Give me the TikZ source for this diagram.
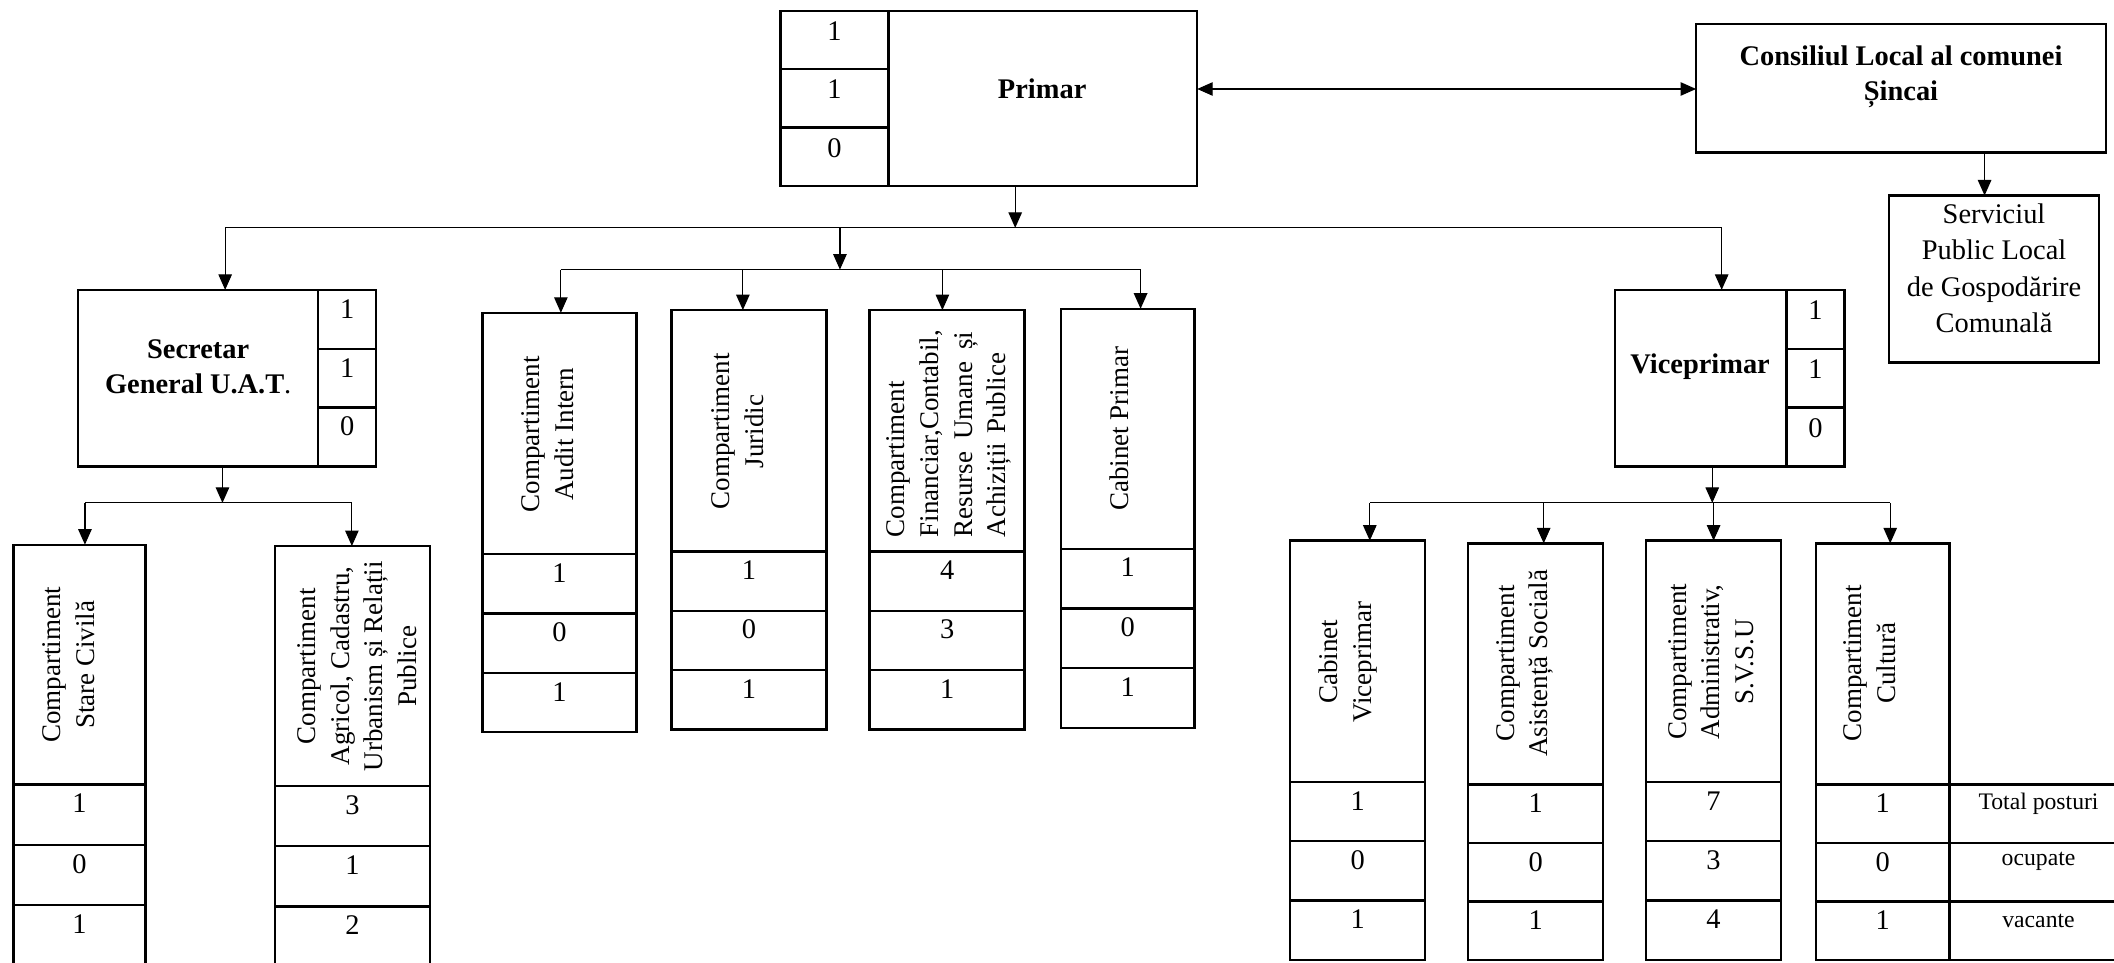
\documentclass[tikz,border=0pt]{standalone}
\usepackage{fontspec}
\setmainfont{Liberation Serif}
\usetikzlibrary{arrows.meta,fit}

% compartment: name, xl, xr, ytop, y1 (first divider), ybot, n1, n2, n3
\newcommand\orgcomp[9]{%
  \pgfmathsetmacro\cya{#5+(#6-#5)/3}%
  \pgfmathsetmacro\cyb{#5+2*(#6-#5)/3}%
  \pgfmathsetmacro\cxc{(#2+#3)/2}%
  \node[cellbox, fit={(#2,#4) (#3,#5)}] (#1) {};%
  \node[cellbox, fit={(#2,#5) (#3,\cya)}] (#1a) {};%
  \node[cellbox, fit={(#2,\cya) (#3,\cyb)}] (#1b) {};%
  \node[cellbox, fit={(#2,\cyb) (#3,#6)}] (#1c) {};%
  \node[numtxt] (#1na) at (\cxc,#5+14) {#7};%
  \node[numtxt] (#1nb) at (\cxc,\cya+14) {#8};%
  \node[numtxt] (#1nc) at (\cxc,\cyb+14) {#9};%
}
% side cells: name, xl, xr, ytop, ybot, n1, n2, n3, offset
\newcommand\orgside[9]{%
  \pgfmathsetmacro\cya{#4+(#5-#4)/3}%
  \pgfmathsetmacro\cyb{#4+2*(#5-#4)/3}%
  \pgfmathsetmacro\cxc{(#2+#3)/2}%
  \node[cellbox, fit={(#2,#4) (#3,\cya)}] (#1a) {};%
  \node[cellbox, fit={(#2,\cya) (#3,\cyb)}] (#1b) {};%
  \node[cellbox, fit={(#2,\cyb) (#3,#5)}] (#1c) {};%
  \node[numtxt] (#1na) at (\cxc,#4+#9) {#6};%
  \node[numtxt] (#1nb) at (\cxc,\cya+#9) {#7};%
  \node[numtxt] (#1nc) at (\cxc,\cyb+#9) {#8};%
}

\begin{document}
\begin{tikzpicture}[x=0.02cm,y=-0.02cm,
  cellbox/.style={draw, line width=1pt, inner sep=0pt, outer sep=0pt},
  numtxt/.style={inner sep=0pt, font=\fontsize{12}{14}\selectfont},
  rottxt/.style={rotate=90, align=center, inner sep=0pt, font=\fontsize{11.4}{14.2}\selectfont},
  headtxt/.style={align=center, inner sep=0pt, font=\bfseries\fontsize{12}{14.8}\selectfont},
  plaintxt/.style={align=center, inner sep=0pt, font=\fontsize{12}{15.4}\selectfont},
  legtxt/.style={inner sep=0pt, font=\fontsize{10}{12}\selectfont},
  conn/.style={line width=0.5pt},
  arr/.style={conn, -{Triangle[length=0.23cm,width=0.2cm]}},
  dblarr/.style={conn, {Triangle[length=0.23cm,width=0.2cm]}-{Triangle[length=0.23cm,width=0.2cm]}},
]
\useasboundingbox (0,0) rectangle (1568,714);

% ---------- Primar ----------
\node[cellbox, fit={(659,8) (888,138)}] (primar) {};
\node[headtxt] (primar-t) at (773,66) {Primar};
\orgside{pr}{579}{659}{8}{138}{1}{1}{0}{15}

% ---------- Consiliul Local ----------
\node[cellbox, fit={(1258,18) (1562,113)}] (consiliu) {};
\node[headtxt] (consiliu-t) at (1410,57) {Consiliul Local al comunei\\Șincai};

% ---------- Serviciul ----------
\node[cellbox, fit={(1401,145) (1557,269)}] (serviciu) {};
\node[plaintxt] (serviciu-t) at (1479,199) {Serviciul\\Public Local\\de Gospodărire\\Comunală};

% ---------- Secretar ----------
\node[cellbox, fit={(58,215) (236,346)}] (sec) {};
\node[headtxt] (sec-t) at (147,272) {Secretar\\General U.A.T\textmd{.}};
\orgside{sg}{236}{279}{215}{346}{1}{1}{0}{14}

% ---------- Viceprimar ----------
\node[cellbox, fit={(1198,215) (1325,346)}] (vice) {};
\node[headtxt] (vice-t) at (1261,272) {Viceprimar};
\orgside{vp}{1325}{1368}{215}{346}{1}{1}{0}{15}

% ---------- compartments under Secretar ----------
\orgcomp{stc}{10}{108}{404}{582}{716}{1}{0}{1}
\node[rottxt] (stc-t) at (51,493) {Compartiment\\Stare Civilă};
\orgcomp{ag}{204}{319}{405}{583}{717}{3}{1}{2}
\node[rottxt] (ag-t) at (265,494) {Compartiment\\Agricol, Cadastru,\\Urbanism și Relații\\Publice};

% ---------- compartments under Primar ----------
\orgcomp{ai}{358}{472}{232}{411}{543}{1}{0}{1}
\node[rottxt] (ai-t) at (406,322) {Compartiment\\Audit Intern};
\orgcomp{ju}{498}{613}{230}{409}{541}{1}{0}{1}
\node[rottxt] (ju-t) at (547,320) {Compartiment\\Juridic};
\orgcomp{fi}{645}{760}{230}{409}{541}{4}{3}{1}
\node[rottxt, anchor=west, align=left, text width=3.05cm] (fi-t) at (704,399)
  {Compartiment\\Financiar,Contabil,\\Resurse\hfill Umane\hfill și\\Achiziții Publice};
\orgcomp{cp}{787}{886}{229}{407}{540}{1}{0}{1}
\node[rottxt] (cp-t) at (830,318) {Cabinet Primar};

% ---------- compartments under Viceprimar ----------
\orgcomp{cv}{957}{1057}{401}{580}{712}{1}{0}{1}
\node[rottxt] (cv-t) at (1000,491) {Cabinet\\Viceprimar};
\orgcomp{as}{1089}{1189}{403}{582}{712}{1}{0}{1}
\node[rottxt] (as-t) at (1131,492) {Compartiment\\Asistență Socială};
\orgcomp{ad}{1221}{1321}{401}{580}{712}{7}{3}{4}
\node[rottxt] (ad-t) at (1269,491) {Compartiment\\Administrativ,\\S.V.S.U};
\orgcomp{cu}{1347}{1446}{403}{582}{712}{1}{0}{1}
\node[rottxt] (cu-t) at (1387,492) {Compartiment\\Cultură};

% ---------- legend ----------
\node[cellbox, fit={(1446,582) (1575,625.3)}] (lg1) {};
\node[cellbox, fit={(1446,625.3) (1575,668.7)}] (lg2) {};
\node[cellbox, fit={(1446,668.7) (1575,712)}] (lg3) {};
\node[legtxt] (lg1-t) at (1512,596) {Total posturi};
\node[legtxt] (lg2-t) at (1512,639) {ocupate};
\node[legtxt] (lg3-t) at (1512,683) {vacante};

% ---------- connectors ----------
\coordinate (dbl) at (1000,66);
\draw[dblarr] (primar.east |- dbl) -- (consiliu.west |- dbl);
\coordinate (cdown) at (1472,0);
\draw[arr] (cdown |- consiliu.south) -- (cdown |- serviciu.north);

\coordinate (pdown) at (753,169);
\draw[arr] (pdown |- primar.south) -- (pdown);
\coordinate (busL) at (167,169);
\coordinate (busR) at (1277,169);
\draw[conn] (busL) -- (busR);
\draw[arr] (busL) -- (busL |- sec.north);
\draw[arr] (busR) -- (busR |- vice.north);

\coordinate (mdown) at (623,169);
\coordinate (mbus) at (623,200);
\draw[arr] (mdown) -- (mbus);
\coordinate (mbL) at (416,200);
\coordinate (mb2) at (551,200);
\coordinate (mb3) at (699,200);
\coordinate (mbR) at (846,200);
\draw[conn] (mbL) -- (mbR);
\draw[arr] (mbL) -- (mbL |- ai.north);
\draw[arr] (mb2) -- (mb2 |- ju.north);
\draw[arr] (mb3) -- (mb3 |- fi.north);
\draw[arr] (mbR) -- (mbR |- cp.north);

\coordinate (sdown) at (165,373);
\draw[arr] (sdown |- sec.south) -- (sdown);
\coordinate (sbL) at (63,373);
\coordinate (sbR) at (261,373);
\draw[conn] (sbL) -- (sbR);
\draw[arr] (sbL) -- (sbL |- stc.north);
\draw[arr] (sbR) -- (sbR |- ag.north);

\coordinate (vdown) at (1270,373);
\draw[arr] (vdown |- vice.south) -- (vdown);
\coordinate (vb1) at (1016,373);
\coordinate (vb2) at (1145,373);
\coordinate (vb3) at (1271,373);
\coordinate (vb4) at (1402,373);
\draw[conn] (vb1) -- (vb4);
\draw[arr] (vb1) -- (vb1 |- cv.north);
\draw[arr] (vb2) -- (vb2 |- as.north);
\draw[arr] (vb3) -- (vb3 |- ad.north);
\draw[arr] (vb4) -- (vb4 |- cu.north);
\end{tikzpicture}
\end{document}
